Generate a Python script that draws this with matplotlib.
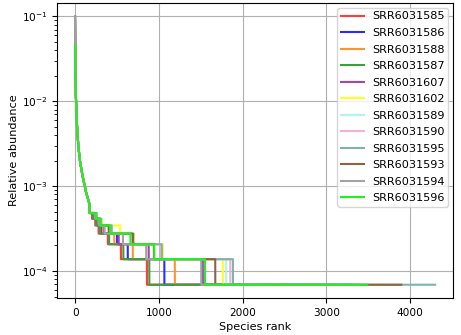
import matplotlib
matplotlib.use("Agg")
import matplotlib.pyplot as plt

# Samples (legend order = drawing order)
samples = ["SRR6031585", "SRR6031586", "SRR6031588", "SRR6031587",
           "SRR6031607", "SRR6031602", "SRR6031589", "SRR6031590",
           "SRR6031595", "SRR6031593", "SRR6031594", "SRR6031596"]
colors = ["#ff3b3b", "#2b2bff", "#ff9233", "#3c9e3c",
          "#a445b2", "#ffff22", "#a8f6f8", "#f6b2cb",
          "#7fb3ae", "#8f6342", "#a3a3a3", "#22f022"]

# rarefied depth: abundance of a species seen k times is k / reads
reads = 14500

# abundance of the most abundant species in each sample
top_abund = [0.060, 0.070, 0.040, 0.080, 0.090, 0.050,
             0.085, 0.075, 0.095, 0.100, 0.099, 0.046]

# common shape of the head of the curve
head_rank = [1, 2, 4, 8, 15, 25, 40, 60, 90, 130, 170]
head_abund = [0.045, 0.032, 0.020, 0.012, 0.0075, 0.0045,
              0.0028, 0.0019, 0.0013, 0.00085, 0.00062]

# last rank holding a species seen >= k times, for k = 7, 6, 5, 4, 3, 2, 1
tail_counts = [7, 6, 5, 4, 3, 2, 1]
tail_ends = [
    [200, 239, 279, 390, 546, 857, 2600],
    [220, 265, 320, 500, 628, 1065, 2900],
    [225, 270, 330, 467, 688, 1190, 3100],
    [210, 250, 295, 405, 575, 885, 2400],
    [230, 280, 345, 520, 878, 1525, 3300],
    [260, 320, 537, 700, 1048, 1764, 3000],
    [255, 310, 440, 690, 1030, 1804, 3200],
    [250, 305, 430, 680, 1020, 1852, 2800],
    [255, 310, 435, 695, 1035, 1884, 4300],
    [245, 295, 400, 690, 940, 1673, 3895],
    [235, 285, 350, 570, 848, 1505, 3400],
    [250, 300, 418, 660, 945, 1550, 3490],
]

fig = plt.figure(figsize=(4.61, 3.35), dpi=100)
ax = fig.add_axes([0.124, 0.110, 0.859, 0.881])

for name, col, top, ends in zip(samples, colors, top_abund, tail_ends):
    x = [0] + head_rank
    y = [top] + head_abund
    start = head_rank[-1] + 1
    for k, end in zip(tail_counts, ends):
        x += [start, end]
        y += [k / reads, k / reads]
        start = end + 1
    ax.plot(x, y, color=col, lw=1.5, label=name)

ax.set_yscale("log")
ax.set_xticks([0, 1000, 2000, 3000, 4000])
ax.grid(True, which="major", color="#b0b0b0", lw=0.8)
ax.tick_params(labelsize=7.6)
ax.set_xlabel("Species rank", fontsize=8.1, labelpad=3)
ax.set_ylabel("Relative abundance", fontsize=8.1, labelpad=2)
ax.legend(loc="upper right", fontsize=8.1, handlelength=2.1,
          handletextpad=0.7, labelspacing=0.58, borderaxespad=0.45,
          borderpad=0.3)

fig.savefig("out.png", dpi=100)
